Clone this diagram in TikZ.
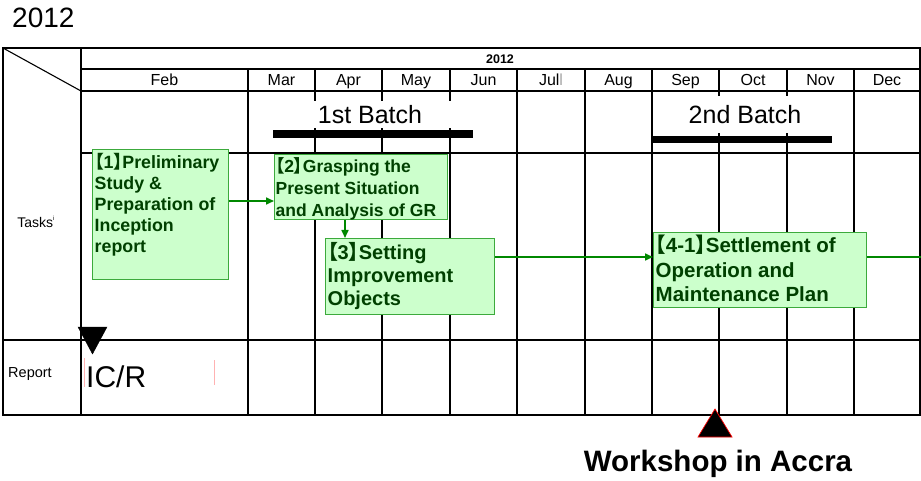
\documentclass[tikz,border=0pt]{standalone}
\usepackage{fontspec}
\setmainfont{Liberation Sans}
\newfontfamily\cjk[RawFeature=+palt]{Noto Sans CJK SC}
\usetikzlibrary{arrows.meta}
\definecolor{boxfill}{RGB}{204,255,204}
\definecolor{boxborder}{RGB}{60,170,60}
\definecolor{taskgreen}{RGB}{0,64,0}
\definecolor{conngreen}{RGB}{0,136,0}
\newcommand{\lbk}{{\cjk\bfseries 【}}
\newcommand{\rbk}{{\cjk\bfseries 】}}
\tikzset{
  gridthick/.style={line width=2pt},
  gridmid/.style={line width=1.5pt},
  gridthin/.style={line width=1.1pt},
  taskbox/.style={draw=boxborder, fill=boxfill, line width=1pt, rectangle, inner sep=0pt, anchor=north west},
  tasktext/.style={anchor=north west, inner sep=0pt, align=left, text=taskgreen},
  conn/.style={draw=conngreen, line width=1.6pt},
  arr/.style={conn, -{Triangle[length=8pt,width=7pt]}},
  month/.style={font=\fontsize{16}{16}\selectfont, inner sep=0pt, anchor=base},
  batchlabel/.style={fill=white, inner sep=0pt, font=\fontsize{25}{25}\selectfont},
  bar/.style={fill=black},
}
\begin{document}
\begin{tikzpicture}[x=1pt,y=-1pt]
\useasboundingbox (0,0) rectangle (921,481);

% title
\node[anchor=base west, inner sep=0pt, font=\fontsize{28}{28}\selectfont] (title) at (12,28) {2012};

% grid
\draw[gridmid] (81,69) -- (920,69);
\draw[gridthick] (81,91) -- (920,91);
\draw[gridmid] (81,153) -- (920,153);
\draw[gridthick] (3,340) -- (920,340);
\draw[gridthin] (3,48) -- (81,91);
\draw[gridmid] (81,48) -- (81,415);
\draw[gridthick] (248,69) -- (248,415);
\foreach \x in {315,382,450,517,585,652,719,787,854}
  \draw[gridthin] (\x,69) -- (\x,415);
\draw[gridthick] (3,48) rectangle (920,415);

% header
\node[inner sep=0pt, font=\bfseries\fontsize{12.5}{12.5}\selectfont] (year) at (500,59) {2012};
\foreach \n/\a/\b in {Feb/81/248, Mar/248/315, Apr/315/382, May/382/450, Jun/450/517, Aug/585/652, Sep/652/719, Oct/719/787, Nov/787/854, Dec/854/920}
  \node[month] (m-\n) at ({(\a+\b)/2},86) {\n};
\node[month] (m-Jul) at (551,86) {Jul{\color{gray!70}l}};

% row labels
\node[inner sep=0pt, font=\fontsize{14}{14}\selectfont] (tasks) at (36,222) {Tasks\raisebox{0.45em}{\fontsize{6}{6}\selectfont i}};
\node[inner sep=0pt, font=\fontsize{14.5}{14.5}\selectfont] (report) at (30,374) {Report};

% batches
\node[batchlabel, minimum width=180pt, minimum height=27pt] (batch1) at (370,114.5) {1st Batch};
\node[bar, minimum width=200pt, minimum height=8pt, inner sep=0pt, anchor=north west] (bar1) at (273,129.5) {};
\node[batchlabel, minimum width=176pt, minimum height=37pt] (batch2) at (745,114.5) {2nd Batch};
\node[bar, minimum width=179pt, minimum height=7pt, inner sep=0pt, anchor=north west] (bar2) at (653,135.5) {};

% task boxes
\node[taskbox, minimum width=136pt, minimum height=130pt] (b1) at (92,149) {};
\node[tasktext, font=\bfseries\fontsize{17.8}{21}\selectfont] (t1) at (94.5,153) {\lbk1\rbk Preliminary\\Study \&\\Preparation of\\Inception\\report};

\node[taskbox, minimum width=173pt, minimum height=65pt] (b2) at (274,154) {};
\node[tasktext, font=\bfseries\fontsize{17.5}{21.7}\selectfont] (t2) at (275.5,157.5) {\lbk2\rbk Grasping the\\Present Situation\\and Analysis of GR};

\node[taskbox, minimum width=169pt, minimum height=76pt] (b3) at (325,238) {};
\node[tasktext, font=\bfseries\fontsize{20}{23}\selectfont] (t3) at (327.5,242) {\lbk3\rbk Setting\\Improvement\\Objects};

\node[taskbox, minimum width=213pt, minimum height=75pt] (b4) at (653,232) {};
\node[tasktext, font=\bfseries\fontsize{20.5}{24.5}\selectfont] (t4) at (655.5,235) {\lbk4-1\rbk Settlement of\\Operation and\\Maintenance Plan};

% connectors
\coordinate (yA) at (0,201);
\coordinate (xB) at (345,0);
\coordinate (yC) at (0,257);
\coordinate (rend) at (921,257);
\draw[arr] (b1.east |- yA) -- (b2.west |- yA);
\draw[arr] (b2.south -| xB) -- (b3.north -| xB);
\draw[arr] (b3.east |- yC) -- (b4.west |- yC);
\draw[conn] (b4.east |- yC) -- (rend);

% report
\draw[fill=black] (78,327) -- (107,327) -- (92.5,354) -- cycle;
\node[anchor=base west, inner sep=0pt, font=\fontsize{30}{30}\selectfont] (icr) at (86,387) {IC/R};
\draw[red!30, line width=0.6pt] (84,358) -- (84,387);
\draw[red!30, line width=0.6pt] (214,360) -- (214,385);

% workshop
\draw[fill=black, draw=red, line width=0.7pt] (698,437) -- (732,437) -- (715,409) -- cycle;
\node[anchor=base, inner sep=0pt, font=\bfseries\fontsize{29.5}{29.5}\selectfont] (ws) at (718,471.5) {Workshop in Accra};
\end{tikzpicture}
\end{document}
